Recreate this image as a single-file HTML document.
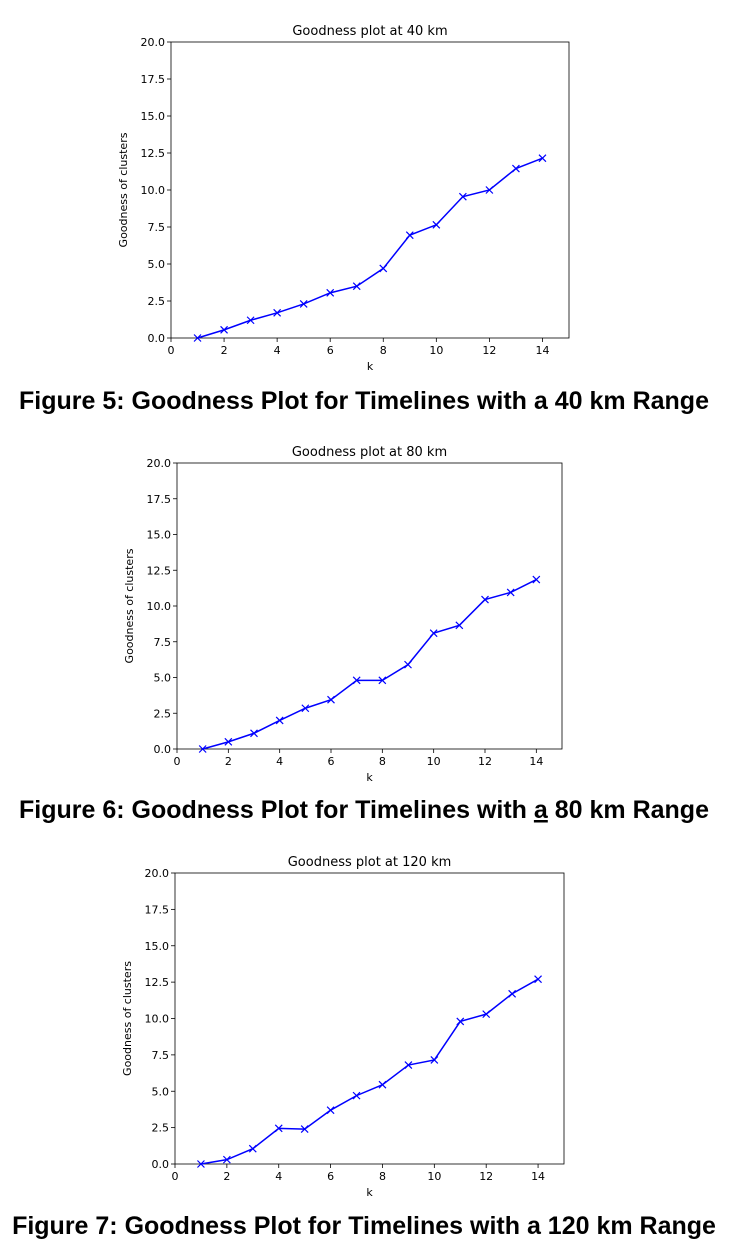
<!DOCTYPE html>
<html><head><meta charset="utf-8"><style>
body{margin:0;background:#fff;width:749px;height:1249px;overflow:hidden}
svg{display:block}
.cap{font-family:"Liberation Sans",Arial,sans-serif;font-weight:bold;font-size:25px}
.t{font-family:"DejaVu Sans",sans-serif;font-size:11px;fill:#000}
</style></head><body>
<svg id="s" width="749" height="1249">
<text class="cap" x="364" y="409" text-anchor="middle">Figure 5: Goodness Plot for Timelines with a 40 km Range</text>
<text class="cap" x="364" y="818" text-anchor="middle">Figure 6: Goodness Plot for Timelines with <tspan text-decoration="underline">a</tspan> 80 km Range</text>
<text class="cap" x="364" y="1234" text-anchor="middle">Figure 7: Goodness Plot for Timelines with a 120 km Range</text>
</svg>
<script>
const kValues=[1,2,3,4,5,6,7,8,9,10,11,12,13,14];
const goodness40=[0,0.55,1.2,1.7,2.3,3.05,3.5,4.7,6.95,7.65,9.55,10.0,11.45,12.15];
const goodness80=[0,0.5,1.1,2.0,2.85,3.45,4.8,4.8,5.9,8.1,8.65,10.45,10.95,11.85];
const goodness120=[0,0.3,1.05,2.45,2.4,3.7,4.7,5.45,6.8,7.15,9.8,10.3,11.7,12.7];
const xTicks=[0,2,4,6,8,10,12,14];
const yTicks=[0,2.5,5,7.5,10,12.5,15,17.5,20];
const titles=["Goodness plot at 40 km","Goodness plot at 80 km","Goodness plot at 120 km"];
const NS="http://www.w3.org/2000/svg";
const svg=document.getElementById('s');
function mk(tag,attrs,parent){const e=document.createElementNS(NS,tag);for(const k in attrs)e.setAttribute(k,attrs[k]);(parent||svg).appendChild(e);return e;}
const boxes=[{l:171,r:569,t:42,b:338},{l:177,r:562,t:463,b:749},{l:175,r:564,t:873,b:1164}];
const series=[goodness40,goodness80,goodness120];
boxes.forEach((bx,ci)=>{
  const g=mk('g',{});
  
  
  const xs=v=>bx.l+(bx.r-bx.l)*v/15, ys=v=>bx.b-(bx.b-bx.t)*v/20;
  const fr=mk('rect',{x:bx.l,y:bx.t,width:bx.r-bx.l,height:bx.b-bx.t,fill:'none',stroke:'#000','stroke-width':0.8},g);
  
  
  const tt=mk('text',{x:(bx.l+bx.r)/2,y:bx.t-7,'text-anchor':'middle',class:'t'},g);
  tt.setAttribute('style','font-size:13px');
  tt.textContent=titles[ci];
  
  
  xTicks.forEach(v=>{
    mk('line',{x1:xs(v),x2:xs(v),y1:bx.b,y2:bx.b+4,stroke:'#000','stroke-width':0.8},g);
    const t=mk('text',{x:xs(v),y:bx.b+16,'text-anchor':'middle',class:'t'},g);
    t.textContent=v;
    
    
  });
  yTicks.forEach(v=>{
    mk('line',{x1:bx.l-4,x2:bx.l,y1:ys(v),y2:ys(v),stroke:'#000','stroke-width':0.8},g);
    const t=mk('text',{x:bx.l-6,y:ys(v)+4,'text-anchor':'end',class:'t'},g);
    t.textContent=v.toFixed(1);
    
    
  });
  const xl=mk('text',{x:(bx.l+bx.r)/2,y:bx.b+32,'text-anchor':'middle',class:'t'},g);
  xl.textContent='k';
  
  
  const cy=(bx.t+bx.b)/2, cx=bx.l-44;
  const yl=mk('text',{x:cx,y:cy,'text-anchor':'middle',class:'t',transform:`rotate(-90 ${cx} ${cy})`},g);
  yl.textContent='Goodness of clusters';
  
  
  const d=series[ci];
  const pts=kValues.map((k,i)=>xs(k)+','+ys(d[i])).join(' ');
  const pl=mk('polyline',{points:pts,fill:'none',stroke:'#0000ff','stroke-width':1.5},g);
  
  
  kValues.forEach((k,i)=>{
    const x=xs(k),y=ys(d[i]);
    const p=mk('path',{d:`M${x-3.5},${y-3.5}L${x+3.5},${y+3.5}M${x-3.5},${y+3.5}L${x+3.5},${y-3.5}`,stroke:'#0000ff','stroke-width':1.2},g);
    
    
  });
});
</script>
</body></html>
